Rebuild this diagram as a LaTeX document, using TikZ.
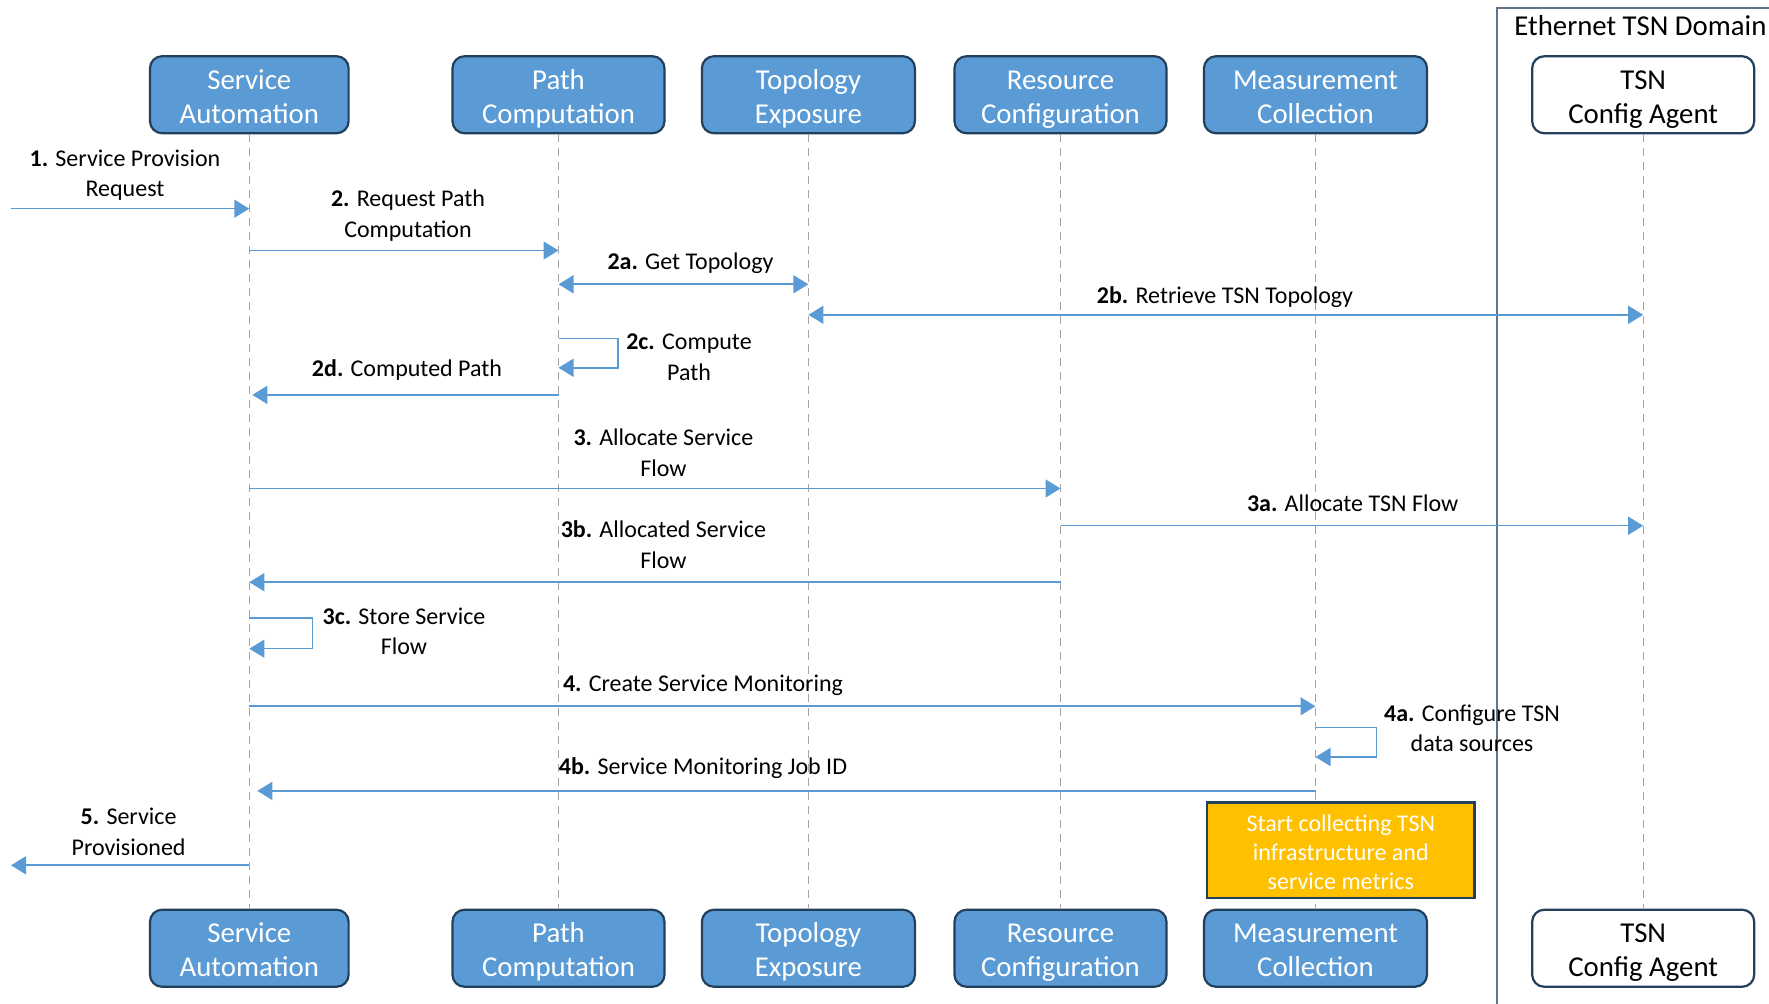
\documentclass[tikz,border=0pt]{standalone}
\usepackage{fontspec}
\setmainfont{Carlito}
\usetikzlibrary{arrows.meta}
\definecolor{boxblue}{HTML}{5B9BD5}
\definecolor{boxedge}{HTML}{223F5C}
\definecolor{arrowblue}{HTML}{5B9BD5}
\definecolor{lifegrey}{HTML}{A6A6A6}
\definecolor{domainedge}{HTML}{5F7389}
\definecolor{noteyellow}{HTML}{FFC000}
\newcommand{\brk}{\\\strut}
\newcommand{\bstrut}{\rule{0pt}{16.4pt}}
\newcommand{\nstrut}{\rule{0pt}{14.5pt}}
\begin{document}
\begin{tikzpicture}[x=0.5pt,y=-0.5pt,
  actor/.style={draw=boxedge, line width=1.1pt, fill=boxblue, rounded corners=6pt, text=white,
    align=center, font=\fontsize{14.4}{17}\selectfont, minimum height=38.35pt, inner sep=0pt},
  tsnactor/.style={actor, fill=white, text=black},
  lifeline/.style={draw=lifegrey, line width=0.6pt, dash pattern=on 4pt off 3pt},
  msg/.style={draw=arrowblue, line width=0.8pt, -{Triangle[length=7.5pt,width=9pt]}},
  dmsg/.style={draw=arrowblue, line width=0.8pt, {Triangle[length=7.5pt,width=9pt]}-{Triangle[length=7.5pt,width=9pt]}},
  lbl/.style={align=center, font=\fontsize{12}{15.25}\selectfont, inner sep=0pt},
  note/.style={draw=boxedge, line width=1.2pt, fill=noteyellow, text=white, align=center,
    font=\fontsize{12}{14.35}\selectfont, minimum width=133.8pt, minimum height=46.85pt, inner sep=0pt},
  domainframe/.style={draw=domainedge, line width=1pt}
]
\useasboundingbox (0,0) rectangle (1769,1004);

% domain frame
\draw[domainframe] (1769,8) -- (1497,8) -- (1497,1004);
\node[anchor=west, font=\fontsize{14.4}{17}\selectfont, inner sep=0pt] (dom) at (1514,26) {Ethernet TSN Domain};

% top actors
\node[actor, minimum width=99.3pt] (sa) at (249.3,94.75) {\bstrut Service\brk Automation};
\node[actor, minimum width=106pt] (pc) at (558.5,94.75) {\bstrut Path\brk Computation};
\node[actor, minimum width=106.5pt] (te) at (808.4,94.75) {\bstrut Topology\brk Exposure};
\node[actor, minimum width=106pt] (rc) at (1060.5,94.75) {\bstrut Resource\brk Configuration};
\node[actor, minimum width=111.5pt] (mc) at (1315.5,94.75) {\bstrut Measurement\brk Collection};
\node[tsnactor, minimum width=111pt] (tsn) at (1643.2,94.75) {\bstrut TSN\brk Config Agent};

% bottom actors
\node[actor, minimum width=99.3pt] (sab) at (249.3,948.25) {\bstrut Service\brk Automation};
\node[actor, minimum width=106pt] (pcb) at (558.5,948.25) {\bstrut Path\brk Computation};
\node[actor, minimum width=106.5pt] (teb) at (808.4,948.25) {\bstrut Topology\brk Exposure};
\node[actor, minimum width=106pt] (rcb) at (1060.5,948.25) {\bstrut Resource\brk Configuration};
\node[actor, minimum width=111.5pt] (mcb) at (1315.5,948.25) {\bstrut Measurement\brk Collection};
\node[tsnactor, minimum width=111pt] (tsnb) at (1643.2,948.25) {\bstrut TSN\brk Config Agent};

% lifelines
\draw[lifeline] (sa.south) -- (sab.north);
\draw[lifeline] (pc.south) -- (pcb.north);
\draw[lifeline] (te.south) -- (teb.north);
\draw[lifeline] (rc.south) -- (rcb.north);
\draw[lifeline] (mc.south) -- (mcb.north);
\draw[lifeline] (tsn.south) -- (tsnb.north);

% messages
\coordinate (m1) at (11,208.7);
\draw[msg] (m1) -- (sa |- m1);
\node[lbl] (l1) at (125,175.5) {\strut\textbf{1.} Service Provision\brk Request};

\draw[msg] (sa |- 0,250.5) -- (pc |- 0,250.5);
\node[lbl] (l2) at (408,215.9) {\strut\textbf{2.} Request Path\brk Computation};

\draw[dmsg] (pc |- 0,284.3) -- (te |- 0,284.3);
\node[lbl] (l2a) at (690.5,263.9) {\strut\textbf{2a.} Get Topology};

\draw[dmsg] (te |- 0,314.8) -- (tsn |- 0,314.8);
\node[lbl] (l2b) at (1225,297.9) {\strut\textbf{2b.} Retrieve TSN Topology};

\draw[msg] (pc |- 0,338.5) -| (618,367.8) -- (pc |- 0,367.8);
\node[lbl] (l2c) at (689,358.8) {\strut\textbf{2c.} Compute\brk Path};

\draw[msg, shorten >=1.5pt] (pc |- 0,394.9) -- (sa |- 0,394.9);
\node[lbl] (l2d) at (407,370.9) {\strut\textbf{2d.} Computed Path};

\draw[msg] (sa |- 0,488.5) -- (rc |- 0,488.5);
\node[lbl] (l3) at (663.4,455.1) {\strut\textbf{3.} Allocate Service\brk Flow};

\draw[msg] (rc |- 0,525.7) -- (tsn |- 0,525.7);
\node[lbl] (l3a) at (1352.7,505.6) {\strut\textbf{3a.} Allocate TSN Flow};

\draw[msg] (rc |- 0,582.2) -- (sa |- 0,582.2);
\node[lbl] (l3b) at (663.4,547.1) {\strut\textbf{3b.} Allocated Service\brk Flow};

\draw[msg] (sa |- 0,618.3) -| (312.5,648.7) -- (sa |- 0,648.7);
\node[lbl] (l3c) at (404,633.6) {\strut\textbf{3c.} Store Service\brk Flow};

\draw[msg] (sa |- 0,706.3) -- (mc |- 0,706.3);
\node[lbl] (l4) at (703,685.9) {\strut\textbf{4.} Create Service Monitoring};

\draw[msg] (mc |- 0,727.7) -| (1376.4,757) -- (mc |- 0,757);
\node[lbl] (l4a) at (1472,730.6) {\strut\textbf{4a.} Configure TSN\brk data sources};

\draw[msg, shorten >=4pt] (mc |- 0,790.9) -- (sa |- 0,790.9);
\node[lbl] (l4b) at (703,768.4) {\strut\textbf{4b.} Service Monitoring Job ID};

\coordinate (m5) at (11,865.3);
\draw[msg] (sa |- m5) -- (m5);
\node[lbl] (l5) at (128.6,833.7) {\strut\textbf{5.} Service\brk Provisioned};

% note
\node[note] (yb) at (1340.8,850.2) {\nstrut Start collecting TSN\brk infrastructure and\brk service metrics};
\end{tikzpicture}
\end{document}
